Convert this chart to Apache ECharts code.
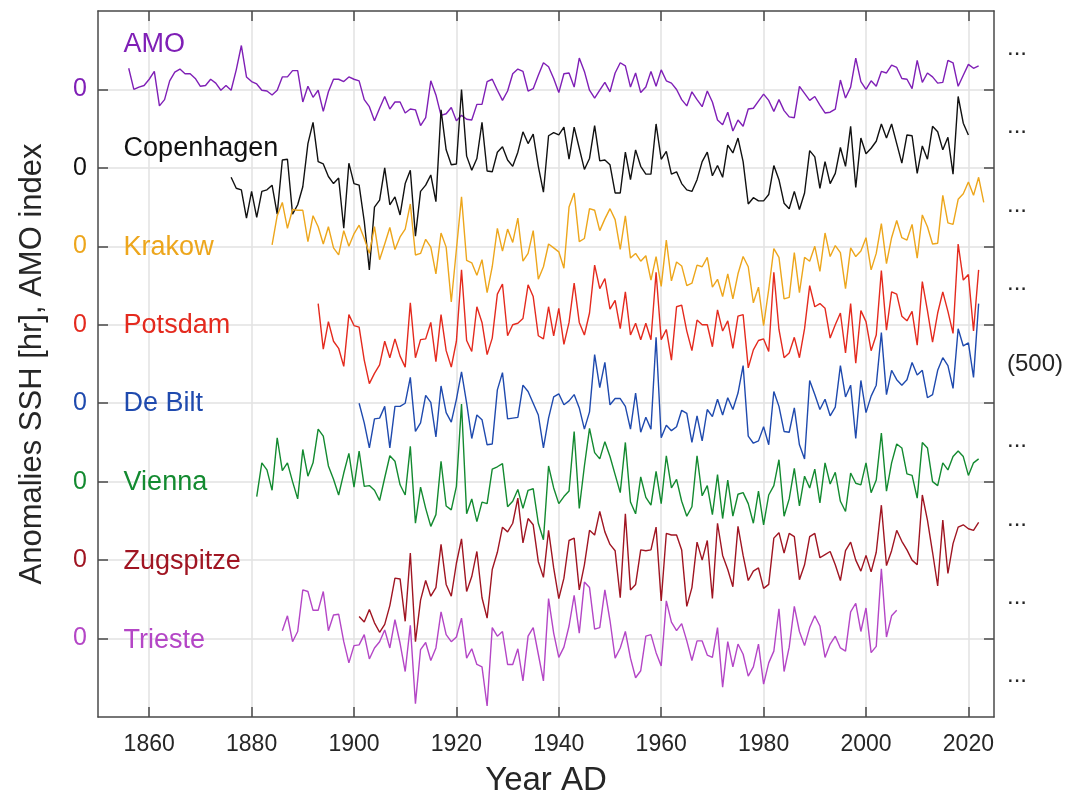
<!DOCTYPE html>
<html>
<head>
<meta charset="utf-8">
<script src="https://cdn.jsdelivr.net/npm/echarts@6/dist/echarts.min.js"></script>
<style>
html,body{margin:0;padding:0;background:#fff;}
#chart{width:1083px;height:800px;}
</style>
</head>
<body>
<div id="chart"></div>
<script>
// Anomalies in display units (one unit = spacing between stacked zero lines)
const amoStart = 1856;
const amo = [0.27,0.00,0.03,0.05,
 0.13,0.23,-0.21,-0.13,0.11,0.22,0.26,0.20,0.20,0.14,
 0.04,0.05,0.13,0.08,-0.01,0.05,-0.01,0.25,0.56,0.16,
 0.10,0.07,-0.01,-0.02,-0.07,-0.01,0.16,0.16,0.24,0.24,
 -0.16,0.04,-0.10,-0.01,-0.28,-0.03,0.13,0.13,0.10,0.16,
 0.13,0.11,-0.13,-0.22,-0.40,-0.24,-0.09,-0.25,-0.16,-0.16,
 -0.30,-0.25,-0.26,-0.46,-0.36,0.11,-0.07,-0.33,-0.31,-0.23,
 -0.40,-0.33,-0.38,-0.39,-0.19,-0.19,0.10,0.13,-0.01,-0.14,
 -0.02,0.20,0.26,0.23,-0.02,0.01,0.18,0.34,0.29,0.14,
 -0.04,0.20,0.21,0.03,0.40,0.23,-0.01,-0.11,-0.01,0.09,
 -0.03,0.21,0.34,0.30,0.03,0.21,-0.04,0.03,0.23,0.04,
 0.25,0.11,0.08,0.00,-0.13,-0.21,-0.03,-0.13,-0.22,-0.02,
 -0.16,-0.39,-0.45,-0.29,-0.53,-0.39,-0.47,-0.25,-0.24,-0.15,
 -0.06,-0.14,-0.28,-0.13,-0.27,-0.35,-0.36,0.04,-0.05,-0.14,
 -0.09,-0.20,-0.30,-0.29,-0.25,0.12,-0.11,0.03,0.40,0.10,
 0.00,0.11,0.04,0.23,0.21,0.31,0.28,0.14,0.13,0.01,
 0.37,0.09,0.21,0.16,0.08,0.09,0.37,0.34,0.04,0.18,
 0.32,0.27,0.30];

const copenhagenStart = 1876;
const copenhagen = [-0.12,-0.26,-0.28,-0.64,
 -0.30,-0.63,-0.30,-0.28,-0.22,-0.59,0.10,0.11,-0.59,-0.47,
 -0.24,0.31,0.58,0.08,0.05,-0.11,-0.20,-0.13,-0.77,0.06,
 -0.20,-0.22,-0.68,-1.30,-0.50,-0.41,0.00,-0.47,-0.37,-0.60,
 -0.20,-0.03,-0.87,-0.30,-0.22,-0.09,-0.43,0.74,0.23,0.04,
 0.05,1.00,0.15,-0.03,0.12,0.58,-0.04,-0.05,0.20,0.27,
 0.10,0.02,0.20,0.46,0.31,0.43,0.02,-0.31,0.41,0.45,
 0.42,0.52,0.11,0.52,0.25,-0.02,0.12,0.54,0.09,0.10,
 0.04,-0.32,-0.32,0.20,-0.15,0.23,0.02,-0.08,-0.08,0.56,
 0.11,0.21,-0.08,-0.05,-0.20,-0.28,-0.30,-0.15,0.08,0.20,
 -0.10,0.03,-0.12,0.29,0.19,0.38,0.08,-0.46,-0.38,-0.42,
 -0.42,-0.34,0.03,-0.15,-0.45,-0.52,-0.30,-0.53,-0.32,0.22,
 0.14,-0.26,0.08,-0.20,-0.07,0.26,0.02,0.53,-0.25,0.38,
 0.18,0.25,0.34,0.56,0.38,0.56,0.31,0.06,0.42,0.41,
 -0.07,0.28,0.11,0.53,0.46,0.23,0.39,-0.08,0.91,0.57,
 0.42];

const krakowStart = 1884;
const krakow = [0.02,0.39,0.56,0.23,0.47,0.46,
 0.46,0.06,0.39,0.25,0.03,0.25,-0.02,-0.11,0.20,0.00,
 0.16,0.27,0.10,-0.09,0.25,-0.17,0.03,0.24,-0.04,0.12,
 0.22,0.54,-0.11,-0.09,0.09,-0.01,-0.35,0.17,-0.01,-0.71,
 -0.04,0.63,-0.18,-0.21,-0.37,-0.17,-0.59,-0.26,0.23,-0.06,
 0.22,0.05,0.36,-0.19,-0.09,0.20,-0.42,-0.26,0.03,-0.02,
 -0.07,-0.28,0.50,0.68,0.06,0.10,0.48,0.46,0.20,0.35,
 0.48,0.34,-0.04,0.39,-0.15,-0.09,-0.19,-0.12,-0.43,-0.13,
 -0.51,0.08,-0.44,-0.20,-0.25,-0.50,-0.47,-0.24,-0.26,-0.14,
 -0.52,-0.42,-0.64,-0.35,-0.67,-0.35,-0.13,-0.26,-0.72,-0.52,
 -1.01,-0.55,-0.03,-0.14,-0.67,-0.65,-0.08,-0.59,-0.14,-0.19,
 0.00,-0.32,0.17,-0.13,0.01,-0.08,-0.54,-0.02,-0.13,-0.06,
 0.11,-0.30,-0.09,0.29,-0.22,0.11,0.33,0.11,0.08,0.28,
 -0.15,0.40,0.25,0.03,0.04,0.65,0.30,0.28,0.60,0.67,
 0.82,0.65,0.88,0.56];

const potsdamStart = 1893;
const potsdam = [0.27,-0.31,0.04,-0.21,-0.30,-0.53,0.13,
 -0.01,-0.03,-0.45,-0.75,-0.62,-0.51,-0.21,-0.42,-0.18,-0.40,
 -0.54,0.28,-0.42,-0.19,-0.18,0.03,-0.47,0.13,-0.33,-0.54,
 -0.21,0.70,-0.20,-0.34,0.23,0.03,-0.38,-0.17,0.39,0.52,
 -0.14,0.00,0.02,0.08,0.51,0.36,-0.14,-0.18,0.23,-0.14,
 0.21,-0.25,0.03,0.53,0.03,-0.13,0.15,0.76,0.46,0.59,
 0.20,0.31,-0.05,0.42,-0.13,0.02,-0.19,0.02,-0.19,0.67,
 -0.19,-0.06,-0.45,0.23,0.25,-0.08,-0.33,0.06,0.00,0.00,
 -0.28,0.19,-0.08,0.05,-0.30,0.11,0.13,-0.55,-0.32,-0.20,
 -0.18,-0.34,0.67,-0.06,-0.42,-0.36,-0.16,-0.42,-0.05,0.50,
 0.23,0.27,0.21,-0.17,0.00,0.15,-0.36,0.27,-0.49,0.18,
 0.04,-0.33,-0.13,0.69,-0.07,0.42,0.39,0.11,0.05,0.17,
 -0.26,0.55,0.18,-0.22,0.15,0.42,0.17,-0.11,1.03,0.57,
 0.64,-0.08,0.70];

const deBiltStart = 1901;
const deBilt = [0.00,-0.25,-0.57,-0.20,-0.19,-0.04,-0.57,-0.04,-0.04,
 0.00,0.33,-0.36,-0.25,0.10,0.01,-0.43,0.22,-0.12,-0.24,
 0.05,0.40,0.00,-0.45,-0.15,-0.21,-0.53,-0.52,0.17,0.39,
 -0.20,-0.19,-0.18,0.23,0.15,0.00,-0.15,-0.57,-0.19,0.08,
 0.12,-0.02,0.03,0.11,-0.06,-0.33,-0.11,0.62,0.20,0.52,
 -0.02,0.06,0.06,-0.04,-0.33,0.13,-0.37,-0.18,-0.33,0.84,
 -0.44,-0.28,-0.35,-0.30,-0.09,-0.13,-0.50,-0.16,-0.48,-0.08,
 -0.17,0.05,-0.15,0.07,-0.08,0.13,0.48,-0.42,-0.51,-0.48,
 -0.30,-0.53,0.15,-0.04,-0.36,-0.37,-0.06,-0.53,-0.71,0.29,
 0.11,-0.08,0.05,-0.16,-0.05,0.48,0.08,0.23,-0.45,0.29,
 -0.12,0.09,0.23,0.90,0.11,0.42,0.30,0.23,0.30,0.52,
 0.36,0.42,0.07,0.11,0.42,0.58,0.48,0.19,0.95,0.73,
 0.77,0.33,1.27];

const viennaStart = 1881;
const vienna = [-0.19,0.24,0.15,-0.11,0.56,0.14,0.24,0.00,-0.22,
 0.41,0.07,0.24,0.67,0.58,0.20,0.03,-0.17,0.11,0.36,
 -0.07,0.39,-0.06,-0.05,-0.11,-0.24,0.05,0.33,0.26,-0.04,
 -0.17,0.45,-0.53,-0.07,-0.34,-0.57,-0.42,0.26,-0.31,-0.36,
 -0.06,0.99,-0.41,-0.22,-0.51,-0.26,-0.28,0.16,0.19,0.23,
 -0.32,-0.25,-0.10,-0.34,-0.11,-0.09,-0.53,-0.74,0.20,-0.08,
 -0.28,-0.19,-0.12,0.64,-0.34,0.20,0.68,0.37,0.29,0.51,
 0.32,0.09,-0.14,0.50,-0.26,-0.41,0.06,-0.20,-0.30,0.13,
 -0.28,0.33,-0.08,0.03,-0.25,-0.44,-0.32,0.33,-0.18,-0.05,
 -0.42,0.09,-0.47,0.02,-0.44,-0.16,-0.14,-0.28,-0.53,-0.12,
 -0.55,-0.17,-0.05,0.28,-0.44,-0.22,0.17,-0.31,0.07,-0.08,
 0.16,-0.27,0.24,-0.03,0.12,-0.25,-0.38,0.11,-0.02,-0.04,
 0.24,-0.14,0.02,0.62,-0.12,0.24,0.48,0.43,0.10,0.08,
 -0.21,0.50,0.43,0.00,-0.05,0.24,0.15,0.32,0.39,0.32,
 0.08,0.24,0.29];

const zugspitzeStart = 1901;
const zugspitze = [-0.72,-0.79,-0.63,-0.80,-0.92,-0.82,-0.58,-0.23,-0.24,
 -0.78,0.09,-1.04,-0.51,-0.26,-0.46,-0.35,0.20,-0.31,-0.46,
 -0.04,0.27,-0.40,-0.21,0.11,-0.48,-0.74,-0.12,0.10,0.42,
 0.36,0.47,0.79,0.22,0.53,0.45,-0.02,-0.22,0.38,-0.10,
 -0.49,-0.23,0.25,0.28,-0.38,-0.06,0.38,0.32,0.62,0.36,
 0.20,0.12,-0.48,0.59,-0.38,-0.31,0.13,0.12,0.13,0.42,
 -0.52,0.34,0.32,0.32,0.13,-0.59,-0.35,0.23,0.00,0.25,
 -0.49,0.47,0.06,-0.12,-0.34,0.43,0.06,-0.26,-0.14,-0.10,
 -0.36,-0.31,0.28,0.35,0.09,0.34,0.30,-0.25,-0.06,0.30,
 0.34,0.03,0.07,0.11,-0.06,-0.26,0.12,0.23,0.00,-0.14,
 0.06,-0.15,0.10,0.70,-0.07,0.12,0.38,0.24,0.13,0.00,
 -0.06,0.83,0.51,0.10,-0.33,0.51,-0.17,0.21,0.42,0.45,
 0.40,0.38,0.48];

const triesteStart = 1886;
const trieste = [0.10,0.29,-0.04,0.09,
 0.62,0.60,0.36,0.36,0.60,0.10,0.30,0.31,-0.04,-0.31,
 -0.09,-0.08,0.05,-0.26,-0.12,-0.04,0.11,-0.12,0.24,-0.06,
 -0.42,0.17,-0.83,-0.14,-0.05,-0.28,-0.12,0.34,0.05,-0.04,
 0.02,0.26,-0.25,-0.13,-0.33,-0.36,-0.86,0.14,0.03,0.09,
 -0.33,-0.33,-0.13,-0.54,0.03,0.14,-0.20,-0.54,0.51,0.07,
 -0.24,-0.11,0.16,0.55,0.07,0.72,0.65,0.12,0.14,0.62,
 0.23,-0.25,-0.12,0.09,-0.25,-0.50,-0.41,0.03,0.05,-0.18,
 -0.35,0.48,0.21,0.10,0.19,-0.03,-0.28,-0.03,-0.03,-0.21,
 -0.24,0.14,-0.62,-0.04,-0.36,-0.07,-0.20,-0.48,-0.36,-0.07,
 -0.58,-0.31,-0.16,0.38,-0.42,-0.11,0.41,0.09,-0.09,0.14,
 0.29,0.16,-0.24,-0.07,0.03,-0.12,-0.16,0.34,0.45,0.09,
 0.39,-0.18,-0.10,0.89,0.02,0.29,0.36];

const seriesNames = ['AMO','Copenhagen','Krakow','Potsdam','De Bilt','Vienna','Zugspitze','Trieste'];
const seriesColors = ['#7F1FB6','#111111','#EDA61C','#E42A1E','#1F4AAE','#138A30','#A01522','#B446C6'];
const seriesOffsets = [7,6,5,4,3,2,1,0];
const seriesStarts = [amoStart,copenhagenStart,krakowStart,potsdamStart,deBiltStart,viennaStart,zugspitzeStart,triesteStart];
const seriesValues = [amo,copenhagen,krakow,potsdam,deBilt,vienna,zugspitze,trieste];
const labelAnchorYear = 1855;
const labelAnchorLift = [0.57,0.25,-0.01,-0.01,-0.01,-0.01,-0.02,-0.02];

const xTicks = [1860,1880,1900,1920,1940,1960,1980,2000,2020];
const zeroTicks = [0,1,2,3,4,5,6,7];
const rightTicks = [-0.5,0.5,1.5,2.5,3.5,4.5,5.5,6.5,7.5];
const rightLabels = ['...','...','...','...','(500)','...','...','...','...'];

const FONT = 'Liberation Sans, Arial, Helvetica, sans-serif';
const axisColor = '#4a4a4a';
const textColor = '#262626';
const gridColor = '#e2e2e2';

const rich = {};
seriesColors.forEach((c,i)=>{ rich['s'+seriesOffsets[i]] = {color:c, fontSize:25, fontFamily:FONT}; });

const series = seriesNames.map((name,i)=>({
  name: name,
  type: 'line',
  xAxisIndex: 0, yAxisIndex: 0,
  showSymbol: false,
  symbol: 'none',
  silent: true,
  animation: false,
  lineStyle: {color: seriesColors[i], width: 1.4},
  itemStyle: {color: seriesColors[i]},
  data: seriesValues[i].map((v,k)=>[seriesStarts[i]+k, v + seriesOffsets[i]]),
  markPoint: {
    symbol: 'circle', symbolSize: 0, silent: true, animation: false,
    data: [{
      coord: [labelAnchorYear, seriesOffsets[i] + labelAnchorLift[i]],
      label: {show: true, position: 'right', distance: 0, formatter: name,
              color: seriesColors[i], fontSize: 27, fontFamily: FONT}
    }]
  }
}));

const boxLine = {show:true, onZero:false, lineStyle:{color:axisColor, width:1.5}};
const tickStyle = {color:axisColor, width:1.5};

const option = {
  backgroundColor: '#ffffff',
  animation: false,
  textStyle: {fontFamily: FONT},
  grid: {left: 98, right: 89, top: 11, bottom: 83, containLabel: false, outerBoundsMode: 'none'},
  xAxis: [{
    type: 'value', min: 1850, max: 2025, position: 'bottom',
    axisLine: boxLine,
    axisTick: {show: true, inside: true, length: 10, customValues: xTicks, lineStyle: tickStyle},
    axisLabel: {customValues: xTicks, fontSize: 23, color: textColor, margin: 16, fontFamily: FONT,
      formatter: v => String(v)},
    splitLine: {show: true, lineStyle: {color: gridColor, width: 1.5}},
    name: 'Year AD', nameLocation: 'middle', nameGap: 47,
    nameTextStyle: {fontSize: 33, color: textColor, fontFamily: FONT}
  },{
    type: 'value', min: 1850, max: 2025, position: 'top',
    axisLine: boxLine,
    axisTick: {show: true, inside: true, length: 10, customValues: xTicks, lineStyle: tickStyle},
    axisLabel: {show: false},
    splitLine: {show: false}
  }],
  yAxis: [{
    type: 'value', min: -1, max: 8, position: 'left',
    axisLine: boxLine,
    axisTick: {show: true, inside: true, length: 10, customValues: zeroTicks, lineStyle: tickStyle},
    axisLabel: {customValues: zeroTicks, margin: 11, fontSize: 25,
      formatter: v => '{s' + Math.round(v) + '|0}', rich: rich},
    splitLine: {show: true, lineStyle: {color: gridColor, width: 1.5}},
    name: 'Anomalies SSH [hr], AMO index', nameLocation: 'middle', nameGap: 50, nameRotate: 90,
    nameTextStyle: {fontSize: 31, color: textColor, fontFamily: FONT}
  },{
    type: 'value', min: -1, max: 8, position: 'right',
    axisLine: boxLine,
    axisTick: {show: true, inside: true, length: 10, customValues: zeroTicks, lineStyle: tickStyle},
    axisLabel: {customValues: rightTicks, margin: 13, fontSize: 24, color: textColor, fontFamily: FONT,
      formatter: v => {
        const t = rightLabels[rightTicks.indexOf(v)] ?? '';
        return t === '...' ? '{d|...}' : t;
      },
      rich: {d: {fontSize: 24, color: textColor, fontFamily: FONT, padding: [0, 0, 4, 0]}}},
    splitLine: {show: false}
  }],
  series: series
};

const chart = echarts.init(document.getElementById('chart'), null, {renderer: 'canvas'});
chart.setOption(option);
</script>
</body>
</html>
